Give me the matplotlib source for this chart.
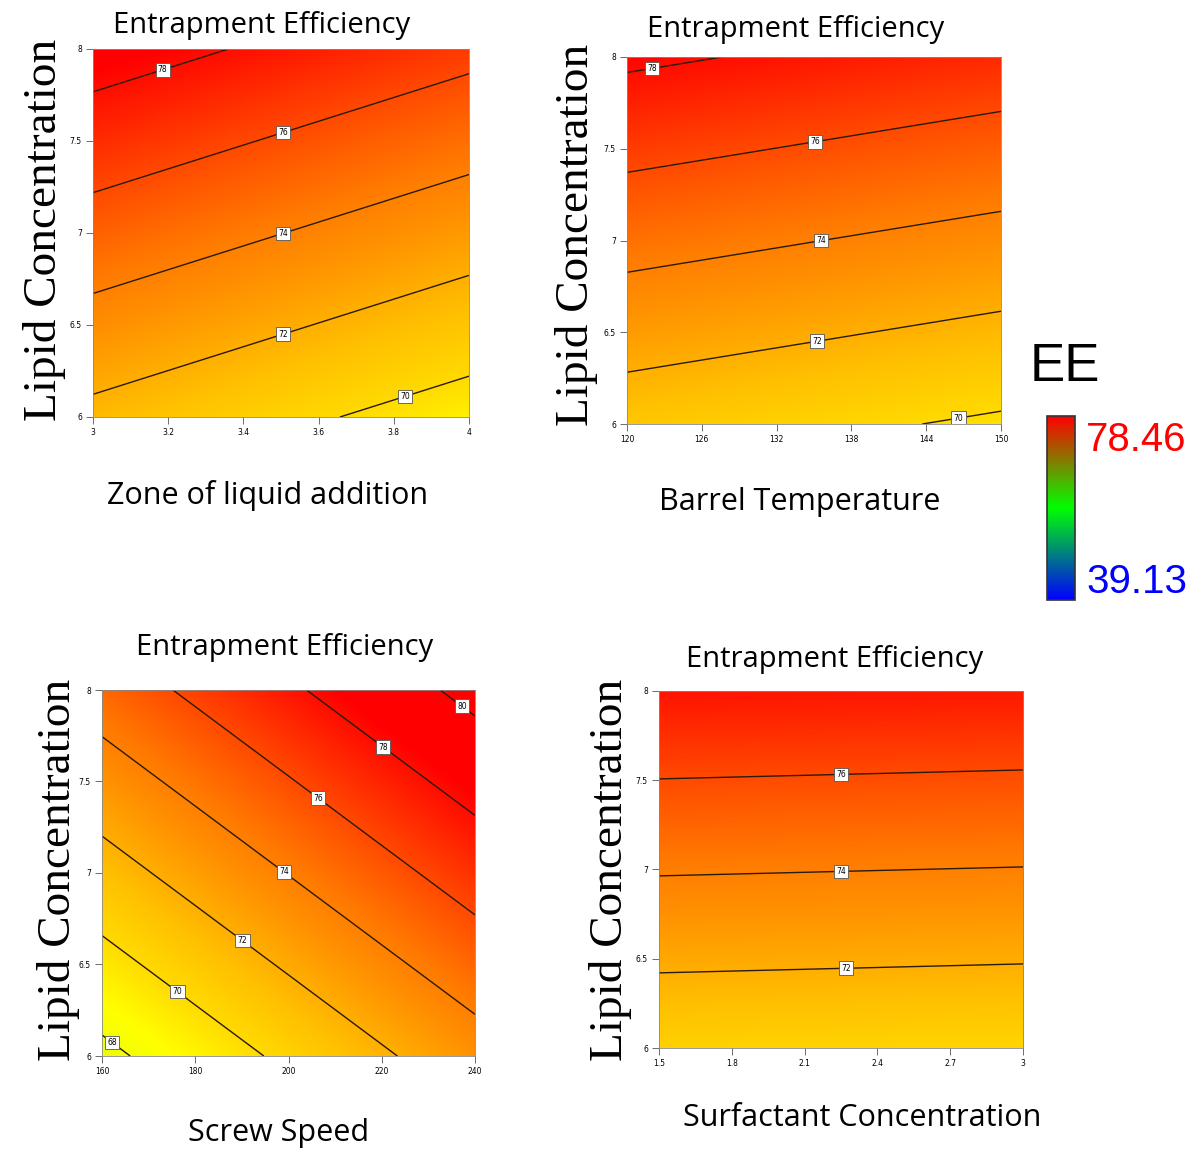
import numpy as np
import matplotlib
matplotlib.use('Agg')
import matplotlib.pyplot as plt
from matplotlib.colors import LinearSegmentedColormap, Normalize
from matplotlib.cm import ScalarMappable

# linear response-surface fits: EE = b0 + bx*factor + by*lipid
titles = ['Entrapment Efficiency'] * 4
xlabels = ['Zone of liquid addition', 'Barrel Temperature', 'Screw Speed', 'Surfactant Concentration']
ylabel = 'Lipid Concentration'
x_ranges = [(3, 4), (120, 150), (160, 240), (1.5, 3)]
y_range = (6, 8)
x_ticks = [[3, 3.2, 3.4, 3.6, 3.8, 4],
           [120, 126, 132, 138, 144, 150],
           [160, 180, 200, 220, 240],
           [1.5, 1.8, 2.1, 2.4, 2.7, 3]]
x_ticklabels = [['3', '3.2', '3.4', '3.6', '3.8', '4'],
                ['120', '126', '132', '138', '144', '150'],
                ['160', '180', '200', '220', '240'],
                ['1.5', '1.8', '2.1', '2.4', '2.7', '3']]
y_ticks = [6, 6.5, 7, 7.5, 8]
y_ticklabels = ['6', '6.5', '7', '7.5', '8']
b0 = [56.73, 53.81, 34.33, 48.55]
bx = [-2.36, -0.0407, 0.0698, -0.1235]
by = [3.65, 3.673, 3.68, 3.681]
levels = [[70, 72, 74, 76, 78],
          [70, 72, 74, 76, 78],
          [68, 70, 72, 74, 76, 78, 80],
          [72, 74, 76]]
label_pos = [[(3.82, 6.17), (3.5, 6.49), (3.5, 7.03), (3.5, 7.58), (3.18, 7.92)],
             [(146.5, 6.07), (135.2, 6.46), (135.5, 7.03), (135.0, 7.57), (122, 7.95)],
             [(163, 6.1), (177, 6.38), (191, 6.66), (200, 7.04), (207, 7.43), (221, 7.71), (238, 7.94)],
             [(2.27, 6.48), (2.25, 7.03), (2.25, 7.57)]]
ee_min, ee_max = 39.13, 78.46

# fill colours: greenish yellow -> yellow -> orange -> red
fill_vals = [66.5, 68.6, 70.0, 71.3, 73.3, 74.3, 76.0, 78.46]
fill_cols = ['#dcff00', '#ffff00', '#ffda00', '#ffc000', '#ff8f00', '#ff7a00', '#ff4a00', '#ff0000']
lo, hi = fill_vals[0], fill_vals[-1]
fill_cmap = LinearSegmentedColormap.from_list(
    'ee', [((v - lo) / (hi - lo), c) for v, c in zip(fill_vals, fill_cols)])
fill_norm = Normalize(lo, hi)

W, H = 1199, 1157
fig = plt.figure(figsize=(W / 100, H / 100), dpi=100)


def box(x0, x1, y0, y1):
    return [x0 / W, 1 - y1 / H, (x1 - x0) / W, (y1 - y0) / H]


ax_boxes = [box(93, 469, 49, 417), box(627, 1001, 57, 424),
            box(102, 475, 690, 1056), box(659, 1023, 691, 1048)]
title_xy = [(262, 26), (796, 29), (285, 648), (835, 659)]
xlabel_xy = [(268, 495), (800, 502), (279, 1133), (862, 1118)]
ylabel_xy = [(45, 230), (577, 235), (58, 870), (610, 870)]

sans = ['Open Sans', 'DejaVu Sans']
serif = ['Liberation Serif', 'DejaVu Serif']

for i in range(4):
    ax = fig.add_axes(ax_boxes[i])
    x = np.linspace(*x_ranges[i], 300)
    y = np.linspace(*y_range, 300)
    X, Y = np.meshgrid(x, y)
    Z = b0[i] + bx[i] * X + by[i] * Y
    ax.imshow(Z, origin='lower', aspect='auto', cmap=fill_cmap, norm=fill_norm,
              extent=[*x_ranges[i], *y_range], interpolation='bilinear')
    cs = ax.contour(X, Y, Z, levels=levels[i], colors='#2a1a0a', linewidths=1.0)
    lbls = ax.clabel(cs, fmt='%d', fontsize=5.5, inline=False, manual=label_pos[i], colors='k')
    for t in lbls:
        t.set_rotation(0)
        t.set_bbox(dict(boxstyle='square,pad=0.3', fc='white', ec='#555555', lw=0.6))
    ax.set_xlim(*x_ranges[i])
    ax.set_ylim(*y_range)
    ax.set_xticks(x_ticks[i])
    ax.set_xticklabels(x_ticklabels[i])
    ax.set_yticks(y_ticks)
    ax.set_yticklabels(y_ticklabels)
    ax.tick_params(labelsize=5.5, length=5, width=0.6, color='#555555', pad=3)
    for s in ax.spines.values():
        s.set_color('#888888')
        s.set_linewidth(0.6)

    fig.text(title_xy[i][0] / W, 1 - title_xy[i][1] / H, titles[i], family=sans,
             fontsize=21, ha='center', va='center')
    fig.text(xlabel_xy[i][0] / W, 1 - xlabel_xy[i][1] / H, xlabels[i], family=sans,
             fontsize=22, ha='center', va='center')
    fig.text(ylabel_xy[i][0] / W, 1 - ylabel_xy[i][1] / H, ylabel, family=serif,
             fontsize=34, ha='center', va='center', rotation=90)

# legend bar for EE
leg_cmap = LinearSegmentedColormap.from_list('leg', ['#0000ff', '#00ff00', '#ff0000'])
cax = fig.add_axes(box(1047, 1075, 416, 600))
cb = fig.colorbar(ScalarMappable(Normalize(ee_min, ee_max), leg_cmap), cax=cax, ticks=[])
cb.outline.set_edgecolor('#333333')
cb.outline.set_linewidth(1.2)
num_font = ['Liberation Sans', 'DejaVu Sans']
fig.text(1065 / W, 1 - 367 / H, 'EE', family=num_font,
         fontsize=38, ha='center', va='center')
fig.text(1086 / W, 1 - 440 / H, f'{ee_max:.2f}', family=num_font, color='#ff0000',
         fontsize=29, ha='left', va='center')
fig.text(1086 / W, 1 - 582 / H, f'{ee_min:.2f}', family=num_font, color='#0000ff',
         fontsize=29, ha='left', va='center')

fig.savefig('out.png', dpi=100)
